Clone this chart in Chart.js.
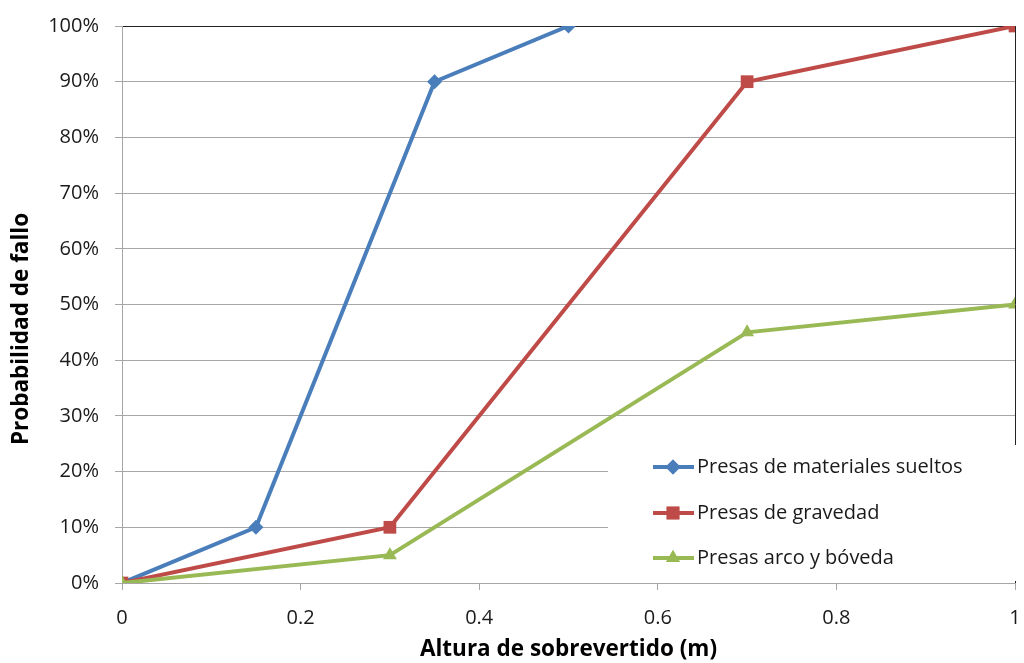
<!DOCTYPE html>
<html>
<head>
<meta charset="utf-8">
<script src="https://cdn.jsdelivr.net/npm/chart.js@4.4.1/dist/chart.umd.min.js"></script>
<style>
  html, body { margin: 0; padding: 0; background: #fff; }
  #wrap { width: 1024px; height: 663px; }
</style>
</head>
<body>
<div id="wrap"><canvas id="chart"></canvas></div>
<script>
const seriesNames = ['Presas de materiales sueltos', 'Presas de gravedad', 'Presas arco y bóveda'];
const sueltosX = [0, 0.15, 0.35, 0.5];
const sueltosY = [0, 10, 90, 100];
const gravedadX = [0, 0.3, 0.7, 1];
const gravedadY = [0, 10, 90, 100];
const arcoX = [0, 0.3, 0.7, 1];
const arcoY = [0, 5, 45, 50];
const colors = ['#4a7ebb', '#be4b48', '#98b954'];
const markers = ['rectRot', 'rect', 'triangle'];
const markerSizes = [7.5, 9, 8];

const fontFamily = '"Open Sans", "Noto Sans", sans-serif';

function toPoints(xs, ys) {
  return xs.map((x, i) => ({ x: x, y: ys[i] }));
}

// legend sits inside the plot, bottom right, on a white box
const legendBox = {
  id: 'legendBox',
  afterDraw(chart) {
    const ctx = chart.ctx;
    ctx.save();
    ctx.fillStyle = '#fff';
    ctx.fillRect(608, 445, 416, 136);
    const rows = [467, 513, 558];
    rows.forEach((y, i) => {
      ctx.strokeStyle = colors[i];
      ctx.lineWidth = 4;
      ctx.beginPath();
      ctx.moveTo(653, y);
      ctx.lineTo(694, y);
      ctx.stroke();
      ctx.fillStyle = colors[i];
      ctx.beginPath();
      Chart.helpers.drawPoint(ctx, {
        pointStyle: markers[i],
        radius: markerSizes[i],
        rotation: 0,
        borderWidth: 0
      }, 673, y);
      ctx.fill();
      ctx.fillStyle = '#1a1a1a';
      ctx.font = '20px ' + fontFamily;
      ctx.textBaseline = 'middle';
      ctx.fillText(seriesNames[i], 697, y);
    });
    // y axis title
    ctx.translate(22, 329);
    ctx.rotate(-Math.PI / 2);
    ctx.font = 'bold 22.5px ' + fontFamily;
    ctx.textAlign = 'center';
    ctx.textBaseline = 'middle';
    ctx.fillStyle = '#000';
    ctx.fillText('Probabilidad de fallo', 0, 0);
    ctx.restore();
  }
};

const datasets = [
  [sueltosX, sueltosY],
  [gravedadX, gravedadY],
  [arcoX, arcoY]
].map((s, i) => ({
  label: seriesNames[i],
  data: toPoints(s[0], s[1]),
  borderColor: colors[i],
  backgroundColor: colors[i],
  borderWidth: 4,
  pointStyle: markers[i],
  pointRadius: markerSizes[i],
  pointBorderWidth: 0,
  tension: 0,
  order: 3 - i
}));

new Chart(document.getElementById('chart'), {
  type: 'line',
  data: { datasets: datasets },
  plugins: [legendBox],
  options: {
    responsive: true,
    maintainAspectRatio: false,
    animation: false,
    layout: { padding: { left: 0, right: 0, top: 26, bottom: 0 } },
    plugins: { legend: { display: false }, tooltip: { enabled: false } },
    scales: {
      x: {
        type: 'linear',
        min: 0,
        max: 1,
        afterFit(scale) {
          scale.height = 80;
          scale.paddingLeft = 0;
          scale.paddingRight = 7;
        },
        ticks: {
          stepSize: 0.2,
          padding: 16,
          color: '#1a1a1a',
          font: { family: fontFamily, size: 20 },
          maxRotation: 0,
          callback: v => Math.round(v * 10) / 10
        },
        grid: {
          drawOnChartArea: true,
          color: ctx => ctx.tick && ctx.tick.value === 1 ? '#222' : 'rgba(0,0,0,0)',
          tickColor: '#a6a6a6',
          tickLength: 7
        },
        border: { color: '#a6a6a6' },
        title: {
          display: true,
          text: 'Altura de sobrevertido (m)',
          color: '#000',
          font: { family: fontFamily, size: 22.5, weight: 'bold' },
          padding: { top: 6, bottom: 0 }
        }
      },
      y: {
        min: 0,
        max: 100,
        afterFit(scale) {
          scale.width = 122;
          scale.paddingTop = 0;
          scale.paddingBottom = 0;
        },
        ticks: {
          stepSize: 10,
          padding: 16,
          color: '#1a1a1a',
          font: { family: fontFamily, size: 20 },
          callback: v => v + '%'
        },
        grid: {
          color: ctx => ctx.tick && ctx.tick.value === 100 ? '#222' : '#a6a6a6',
          tickColor: '#a6a6a6',
          tickLength: 7
        },
        border: { color: '#a6a6a6' }
      }
    }
  }
});
</script>
</body>
</html>
